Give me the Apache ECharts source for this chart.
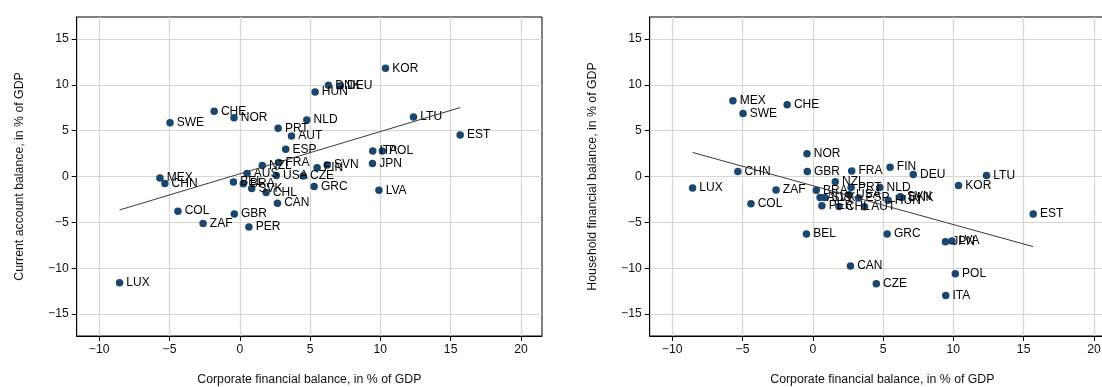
<!DOCTYPE html>
<html>
<head>
<meta charset="utf-8">
<script src="https://cdn.jsdelivr.net/npm/echarts@6/dist/echarts.min.js"></script>
<style>
html,body{margin:0;padding:0;background:#fff;}
#chart{width:1102px;height:387px;}
</style>
</head>
<body>
<div id="chart"></div>
<script>
const countries = ['LUX','MEX','CHN','SWE','COL','ZAF','CHE','NOR','BEL','GBR','BRA','AUS','PER','SVK','NZL','CHL','USA','CAN','PRT','FRA','ESP','AUT','CZE','NLD','GRC','HUN','FIN','SVN','DNK','DEU','JPN','ITA','LVA','POL','KOR','LTU','EST'];
const corporateBalance = [-8.55,-5.68,-5.33,-4.96,-4.40,-2.61,-1.82,-0.41,-0.45,-0.39,0.25,0.52,0.65,0.85,1.60,1.87,2.60,2.68,2.73,2.77,3.27,3.68,4.52,4.77,5.29,5.36,5.50,6.22,6.31,7.15,9.44,9.46,9.90,10.14,10.37,12.36,15.68];
const currentAccount = [-11.6,-0.17,-0.75,5.87,-3.78,-5.13,7.11,6.42,-0.61,-4.08,-0.80,0.34,-5.50,-1.30,1.21,-1.74,0.12,-2.91,5.26,1.54,2.96,4.42,0.05,6.16,-1.08,9.22,0.95,1.25,9.96,9.90,1.42,2.78,-1.50,2.78,11.81,6.49,4.52];
const householdBalance = [-1.25,8.26,0.54,6.88,-2.96,-1.46,7.83,2.47,-6.27,0.54,-1.50,-2.30,-3.20,-2.30,-0.57,-3.28,-2.00,-9.77,-1.21,0.61,-2.35,-3.30,-11.70,-1.19,-6.27,-2.60,1.02,-2.20,-2.30,0.21,-7.11,-12.98,-7.04,-10.61,-0.99,0.10,-4.09];
const fitCurrent = [[-8.55,-3.65],[15.68,7.52]];
const fitHousehold = [[-8.55,2.62],[15.68,-7.65]];
const xTicks = [-10,-5,0,5,10,15,20];
const yTicks = [-15,-10,-5,0,5,10,15];
const xTitle = 'Corporate financial balance, in % of GDP';
const yTitles = ['Current account balance, in % of GDP','Household financial balance, in % of GDP'];

const FONT = 'Liberation Sans, Arial, Helvetica, sans-serif';
const NAVY = '#1a476f';
const fmt = v => (v < 0 ? '\u2212' + Math.abs(v) : String(v));

function xAxis(i){
  return {
    gridIndex:i, type:'value', min:-11.6, max:21.5,
    name:xTitle, nameLocation:'middle', nameGap:38,
    nameTextStyle:{fontFamily:FONT,fontSize:12.3,color:'#111'},
    axisLine:{show:true,onZero:false,lineStyle:{color:'#000',width:1}},
    axisTick:{show:true,length:5,lineStyle:{color:'#000'},customValues:xTicks},
    axisLabel:{fontFamily:FONT,fontSize:12.2,color:'#111',margin:8,customValues:xTicks,formatter:fmt},
    splitLine:{show:true,lineStyle:{color:'#d6d6d6',width:1.2},customValues:xTicks}
  };
}
function yAxis(i){
  return {
    gridIndex:i, type:'value', min:-17.4, max:17.4,
    name:yTitles[i], nameLocation:'middle', nameGap:51, nameRotate:90,
    nameTextStyle:{fontFamily:FONT,fontSize:12.3,color:'#111'},
    axisLine:{show:true,onZero:false,lineStyle:{color:'#000',width:1}},
    axisTick:{show:true,length:5,lineStyle:{color:'#000'},customValues:yTicks},
    axisLabel:{fontFamily:FONT,fontSize:12.2,color:'#111',margin:8,customValues:yTicks,formatter:fmt},
    splitLine:{show:true,lineStyle:{color:'#d6d6d6',width:1.2},customValues:yTicks}
  };
}
function scatter(i, ys){
  return {
    type:'scatter', xAxisIndex:i, yAxisIndex:i, symbolSize:7.5,
    itemStyle:{color:NAVY,opacity:1},
    label:{show:true,position:'right',distance:3,formatter:p=>p.name,fontFamily:FONT,fontSize:12,color:'#000'},
    emphasis:{disabled:true},
    data: countries.map((c,k)=>({name:c,value:[corporateBalance[k],ys[k]]})),
    z:3
  };
}
function fit(i, pts){
  return {
    type:'line', xAxisIndex:i, yAxisIndex:i, showSymbol:false, symbol:'none',
    lineStyle:{color:'#3a3a3a',width:1}, data:pts, z:4, silent:true
  };
}
const chart = echarts.init(document.getElementById('chart'), null, {renderer:'canvas'});
chart.setOption({
  animation:false,
  backgroundColor:'#fff',
  grid:[
    {left:76.7,top:17,width:465.3,height:319,show:true,borderColor:'#000',borderWidth:1,backgroundColor:'#fff',outerBoundsMode:'none'},
    {left:649.7,top:17,width:465.3,height:319,show:true,borderColor:'#000',borderWidth:1,backgroundColor:'#fff',outerBoundsMode:'none'}
  ],
  xAxis:[xAxis(0),xAxis(1)],
  yAxis:[yAxis(0),yAxis(1)],
  series:[scatter(0,currentAccount),fit(0,fitCurrent),scatter(1,householdBalance),fit(1,fitHousehold)]
});
</script>
</body>
</html>
